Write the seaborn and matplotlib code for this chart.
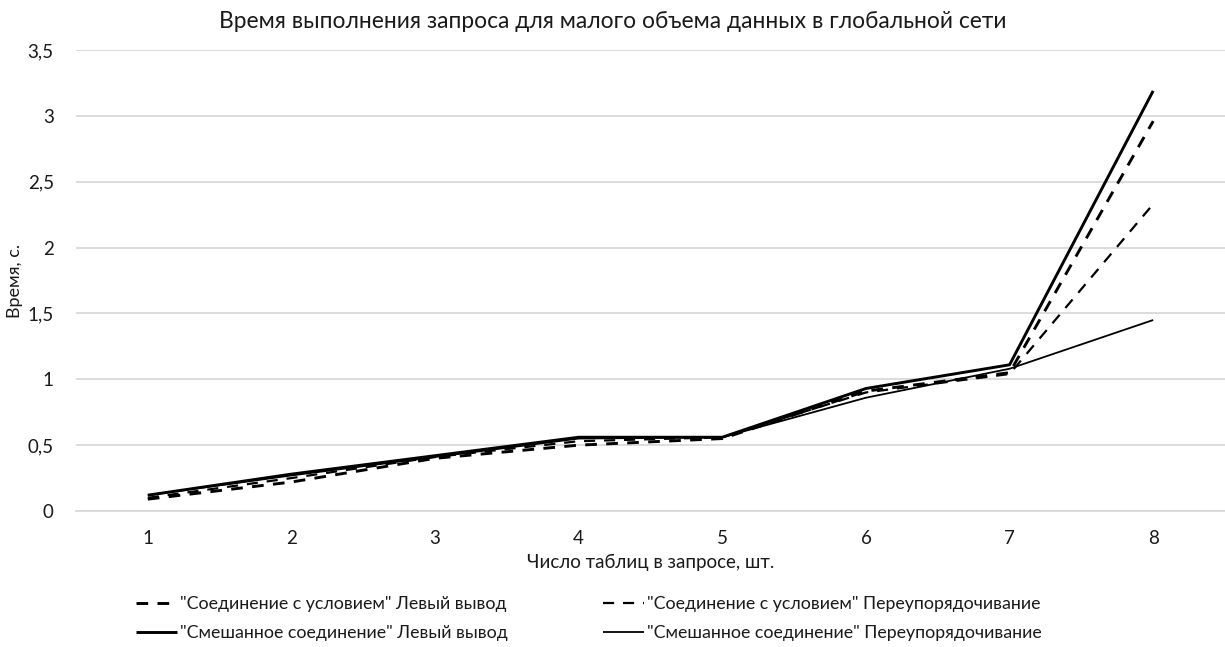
import matplotlib
matplotlib.use("Agg")
import matplotlib.pyplot as plt
from matplotlib.ticker import FuncFormatter, MultipleLocator
import seaborn as sns
import pandas as pd

tables = [1, 2, 3, 4, 5, 6, 7, 8]
cond_left = [0.09, 0.22, 0.40, 0.50, 0.55, 0.91, 1.05, 2.96]
cond_reorder = [0.10, 0.25, 0.41, 0.53, 0.56, 0.90, 1.04, 2.33]
mixed_left = [0.12, 0.28, 0.42, 0.56, 0.56, 0.93, 1.11, 3.19]
mixed_reorder = [0.12, 0.27, 0.41, 0.55, 0.56, 0.86, 1.08, 1.45]

names = [
    '"Соединение с условием" Левый вывод',
    '"Соединение с условием" Переупорядочивание',
    '"Смешанное соединение" Левый вывод',
    '"Смешанное соединение" Переупорядочивание',
]
series = [cond_left, cond_reorder, mixed_left, mixed_reorder]
styles = [
    dict(lw=2.1, dashes=(4, 3.2)),
    dict(lw=1.6, dashes=(5, 4)),
    dict(lw=2.1, dashes=None),
    dict(lw=1.3, dashes=None),
]

df = pd.concat(
    [pd.DataFrame({"x": tables, "y": vals, "series": name}) for name, vals in zip(names, series)],
    ignore_index=True,
)

sns.set_theme(style="white")
plt.rcParams["font.family"] = ["Lato", "DejaVu Sans"]

fig = plt.figure(figsize=(12.25, 6.47), dpi=100)
ax = fig.add_axes([76 / 1225, 1 - 511 / 647, 1 - 76 / 1225, (511 - 50) / 647])

handles = []
for name, st in zip(names, styles):
    sub = df[df["series"] == name]
    sns.lineplot(data=sub, x="x", y="y", ax=ax, color="black", linewidth=st["lw"],
                 label=name, legend=False)
    line = ax.lines[-1]
    if st["dashes"] is not None:
        line.set_dashes(st["dashes"])
    line.set_solid_capstyle("butt")
    handles.append(line)

ax.set_xlim(0.5, 8.5)
ax.set_ylim(0, 3.5)
ax.set_xticks(tables)
ax.yaxis.set_major_locator(MultipleLocator(0.5))
ax.yaxis.set_major_formatter(FuncFormatter(lambda v, p: f"{v:g}".replace(".", ",")))
ax.grid(axis="y", color="#d9d9d9", linewidth=1.3)
ax.set_axisbelow(True)
for side in ["top", "right", "left"]:
    ax.spines[side].set_visible(False)
ax.spines["bottom"].set_color("#d9d9d9")
ax.spines["bottom"].set_linewidth(1.3)
ax.tick_params(axis="both", length=0, labelsize=13.5, colors="#1a1a1a")
ax.tick_params(axis="x", pad=14)
ax.tick_params(axis="y", pad=16)

ax.set_xlabel("Число таблиц в запросе, шт.", fontsize=13.5, color="#1a1a1a", labelpad=5)
ax.set_ylabel("Время, с.", fontsize=13, color="#1a1a1a")
ax.yaxis.set_label_coords(-0.046, 0.5)
fig.text(0.5, 1 - 22 / 647,
         "Время выполнения запроса для малого объема данных в глобальной сети",
         ha="center", va="center", fontsize=16.4, color="#1a1a1a")

# row-major order: first row holds the "Соединение с условием" series
order = [0, 2, 1, 3]
fig.legend(handles=[handles[i] for i in order], labels=[names[i] for i in order],
           loc="upper left", bbox_to_anchor=(136 / 1225, 1 - 596 / 647),
           ncol=2, frameon=False, fontsize=12.8, handlelength=2.3, handletextpad=0.15,
           columnspacing=5.4, labelspacing=0.75, labelcolor="#1a1a1a",
           borderaxespad=0, borderpad=0)

fig.savefig("out.png", dpi=100, facecolor="white")
